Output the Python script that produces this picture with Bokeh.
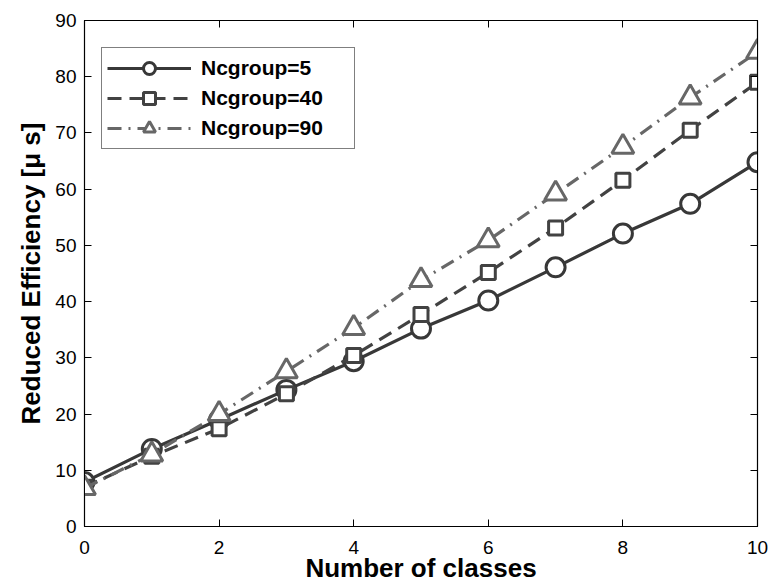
from bokeh.plotting import figure
from bokeh.models import Legend, LegendItem, LinearAxis, FixedTicker, Range1d, CustomJSTickFormatter
from bokeh.embed import file_html
from bokeh.resources import INLINE

classes = [0, 1, 2, 3, 4, 5, 6, 7, 8, 9, 10]
ncgroup_5 = [7.9, 13.8, 19.0, 24.3, 29.4, 35.2, 40.2, 46.1, 52.1, 57.4, 64.8]
ncgroup_40 = [7.0, 12.5, 17.4, 23.6, 30.4, 37.7, 45.2, 53.1, 61.6, 70.5, 79.0]
ncgroup_90 = [6.8, 12.8, 20.0, 27.6, 35.3, 43.8, 50.9, 59.2, 67.5, 76.3, 84.4]
labels = ["Ncgroup=5", "Ncgroup=40", "Ncgroup=90"]
x_ticks = [0, 2, 4, 6, 8, 10]
y_ticks = [0, 10, 20, 30, 40, 50, 60, 70, 80, 90]

FONT = "Liberation Sans"

p = figure(width=771, height=586, output_backend="svg", toolbar_location=None,
           x_range=Range1d(0, 10), y_range=Range1d(0, 90),
           min_border_left=84, min_border_right=14, min_border_top=20, min_border_bottom=60)
p.grid.visible = False
p.outline_line_color = "black"
p.outline_line_width = 1.2
p.background_fill_color = "white"
p.border_fill_color = "white"

for ax, ticks in ((p.xaxis[0], x_ticks), (p.yaxis[0], y_ticks)):
    ax.ticker = FixedTicker(ticks=ticks)
    ax.major_tick_in = 7
    ax.major_tick_out = 0
    ax.minor_tick_line_color = None
    ax.axis_line_color = "black"
    ax.major_tick_line_color = "black"
    ax.major_label_text_font = FONT
    ax.major_label_text_font_size = "19px"
    ax.major_label_text_color = "black"
    ax.axis_label_text_font = FONT
    ax.axis_label_text_font_size = "26px"
    ax.axis_label_text_font_style = "bold"
    ax.axis_label_text_color = "black"

p.xaxis[0].axis_label = "Number of classes"
p.yaxis[0].axis_label = "Reduced Efficiency [\u03bc s]"
p.xaxis[0].major_label_standoff = 14
p.xaxis[0].axis_label_standoff = -4
p.yaxis[0].major_label_standoff = 8
p.yaxis[0].axis_label_standoff = 6

blank = CustomJSTickFormatter(code="return ''")
top = LinearAxis(ticker=FixedTicker(ticks=x_ticks), major_tick_in=7, major_tick_out=0,
                 minor_tick_line_color=None, formatter=blank,
                 major_label_standoff=0, axis_line_color="black")
right = LinearAxis(ticker=FixedTicker(ticks=y_ticks), major_tick_in=7, major_tick_out=0,
                   minor_tick_line_color=None, formatter=blank,
                   major_label_standoff=0, axis_line_color="black")
p.add_layout(top, "above")
p.add_layout(right, "right")

l1 = p.line(classes, ncgroup_5, line_color="#383838", line_width=3.2)
m1 = p.scatter(classes, ncgroup_5, marker="circle", size=19, line_color="#383838",
               line_width=3, fill_color="white")
l2 = p.line(classes, ncgroup_40, line_color="#424242", line_width=3.2, line_dash="14 8")
m2 = p.scatter(classes, ncgroup_40, marker="square", size=14, line_color="#424242",
               line_width=3, fill_color="white")
l3 = p.line(classes, ncgroup_90, line_color="#676767", line_width=3.2, line_dash="14 7 2 7")
m3 = p.scatter(classes, ncgroup_90, marker="triangle", size=22, line_color="#676767",
               line_width=3, fill_color="white")

legend = Legend(items=[
    LegendItem(label=labels[0], renderers=[l1, m1]),
    LegendItem(label=labels[1], renderers=[l2, m2]),
    LegendItem(label=labels[2], renderers=[l3, m3]),
], location=(17, 377))
legend.label_text_font = FONT
legend.label_text_font_size = "21px"
legend.label_text_font_style = "bold"
legend.label_text_color = "black"
legend.glyph_width = 84
legend.glyph_height = 30
legend.label_height = 30
legend.label_width = 148
legend.label_standoff = 10
legend.spacing = 0
legend.padding = 5
legend.margin = 0
legend.border_line_color = "black"
legend.border_line_width = 1.2
legend.background_fill_color = "white"
legend.background_fill_alpha = 1.0
p.add_layout(legend, "center")

open("out.html", "w").write(file_html(p, INLINE))
